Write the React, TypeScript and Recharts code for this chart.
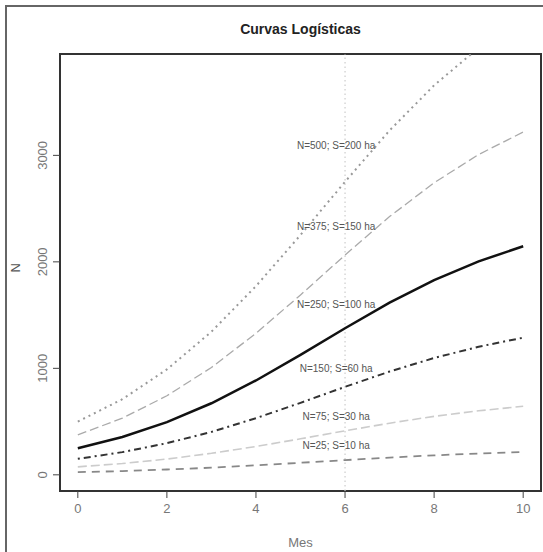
import { LineChart, Line, XAxis, YAxis, ReferenceLine, ReferenceArea, ReferenceDot } from "recharts";

// months 0..10
const months = [0, 1, 2, 3, 4, 5, 6, 7, 8, 9, 10];

// N values, one array per scenario
const n500 = [500, 710, 990, 1344, 1772, 2252, 2752, 3234, 3658, 4010, 4292];
const n375 = [375, 532, 742, 1008, 1329, 1689, 2064, 2425, 2743, 3008, 3219];
const n250 = [250, 355, 495, 672, 886, 1126, 1376, 1617, 1829, 2005, 2146];
const n150 = [150, 213, 297, 403, 532, 676, 826, 970, 1097, 1203, 1288];
const n75 = [75, 106, 148, 202, 266, 338, 413, 485, 549, 601, 644];
const n25 = [25, 35, 50, 67, 89, 113, 138, 162, 183, 200, 215];

const xTicks = [0, 2, 4, 6, 8, 10];
const yTicks = [0, 1000, 2000, 3000];

const labelNames = [
  "N=500; S=200 ha",
  "N=375; S=150 ha",
  "N=250; S=100 ha",
  "N=150; S=60 ha",
  "N=75; S=30 ha",
  "N=25; S=10 ha",
];
const labelY = [3095, 2330, 1600, 1000, 546, 280];
const labelX = 5.8;

const data = months.map((t, i) => ({
  t,
  n500: n500[i],
  n375: n375[i],
  n250: n250[i],
  n150: n150[i],
  n75: n75[i],
  n25: n25[i],
}));

const FONT = '"Liberation Sans", Arial, sans-serif';
const X_DOMAIN: [number, number] = [-0.4, 10.4];
const Y_DOMAIN: [number, number] = [-152, 3952];

function YTick({ x, y, payload }: any) {
  return (
    <text
      x={x}
      y={y}
      transform={`rotate(-90 ${x} ${y})`}
      textAnchor="middle"
      fill="#777"
      fontSize={13}
      fontFamily={FONT}
    >
      {payload.value}
    </text>
  );
}

function curveLabel(text: string) {
  return (p: any) => (
    <text
      x={p.cx}
      y={p.cy}
      textAnchor="middle"
      dominantBaseline="central"
      fill="#555"
      fontSize={10}
      fontFamily={FONT}
    >
      {text}
    </text>
  );
}

export default function App() {
  return (
    <div
      style={{
        position: "absolute",
        left: 0,
        top: 0,
        width: 543,
        height: 552,
        overflow: "hidden",
        background: "#fff",
        fontFamily: FONT,
      }}
    >
      <div
        style={{
          position: "absolute",
          left: 5,
          top: 5,
          width: 600,
          height: 600,
          border: "2px solid #666",
        }}
      />
      <div
        style={{
          position: "absolute",
          left: 60,
          width: 481,
          top: 21,
          textAlign: "center",
          fontWeight: "bold",
          fontSize: 14,
          color: "#222",
        }}
      >
        Curvas Logísticas
      </div>
      <div style={{ position: "absolute", left: 0, top: 0 }}>
        <LineChart width={543} height={552} data={data} margin={{ top: 54, right: 2, bottom: 0, left: 0 }}>
          <XAxis
            dataKey="t"
            type="number"
            domain={X_DOMAIN}
            ticks={xTicks}
            allowDataOverflow
            axisLine={false}
            tickSize={7}
            tickMargin={6}
            height={61}
            tickLine={{ stroke: "#444" }}
            tick={{ fill: "#777", fontSize: 13, fontFamily: FONT }}
            label={{ value: "Mes", position: "insideBottom", offset: 5, fill: "#777", fontSize: 13, fontFamily: FONT }}
          />
          <YAxis
            type="number"
            domain={Y_DOMAIN}
            ticks={yTicks}
            allowDataOverflow
            axisLine={false}
            tickSize={7}
            tickMargin={6}
            width={60}
            tickLine={{ stroke: "#444" }}
            tick={<YTick />}
            label={{ value: "N", angle: -90, position: "insideLeft", offset: 15, fill: "#555", fontSize: 13, fontFamily: FONT }}
          />
          <ReferenceLine x={6} stroke="#ccc" strokeDasharray="1.5 3" strokeWidth={1.2} />
          <Line dataKey="n500" type="linear" stroke="#999" strokeWidth={2} strokeDasharray="2 4" dot={false} isAnimationActive={false} />
          <Line dataKey="n375" type="linear" stroke="#aaa" strokeWidth={1.3} strokeDasharray="9 4" dot={false} isAnimationActive={false} />
          <Line dataKey="n250" type="linear" stroke="#111" strokeWidth={2.5} dot={false} isAnimationActive={false} />
          <Line dataKey="n150" type="linear" stroke="#333" strokeWidth={2} strokeDasharray="2 4 7 4" dot={false} isAnimationActive={false} />
          <Line dataKey="n75" type="linear" stroke="#ccc" strokeWidth={1.6} strokeDasharray="9 4" dot={false} isAnimationActive={false} />
          <Line dataKey="n25" type="linear" stroke="#888" strokeWidth={1.8} strokeDasharray="8 6" dot={false} isAnimationActive={false} />
          {labelNames.map((name, i) => (
            <ReferenceDot key={name} x={labelX} y={labelY[i]} r={0} ifOverflow="visible" shape={curveLabel(name)} />
          ))}
          <ReferenceArea
            x1={X_DOMAIN[0]}
            x2={X_DOMAIN[1]}
            y1={Y_DOMAIN[0]}
            y2={Y_DOMAIN[1]}
            fill="none"
            fillOpacity={0}
            stroke="#333"
            strokeWidth={2}
            ifOverflow="visible"
          />
        </LineChart>
      </div>
    </div>
  );
}
